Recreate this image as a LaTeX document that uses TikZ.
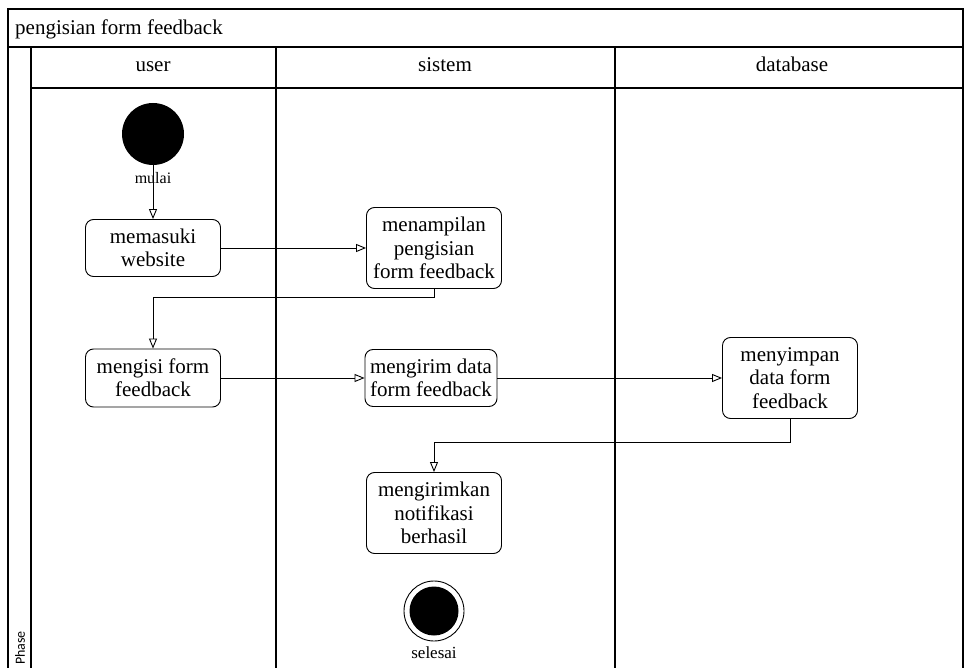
\documentclass[tikz,border=0pt]{standalone}
\usepackage{fontspec}
\setmainfont{Liberation Serif}
\newfontfamily\phasefont{Carlito}
\usetikzlibrary{arrows.meta}

\begin{document}
\begin{tikzpicture}[x=1pt,y=-1pt,
  act/.style={draw,line width=0.9pt,rounded corners=8pt,minimum width=135pt,align=center,inner sep=2pt,font=\fontsize{21}{23.3}\selectfont},
  flow/.style={-{Triangle[open,length=10pt,width=8pt]},line width=0.9pt},
  lane/.style={line width=1.6pt},
  head/.style={anchor=base,inner sep=0pt,font=\fontsize{21}{23.3}\selectfont}]
\useasboundingbox (0,0) rectangle (964,668);
% frame and lanes
\draw[line width=1.2pt] (8,670) -- (8,9) -- (963,9) -- (963,670);
\draw[line width=1.2pt] (8,47) -- (963,47);
\draw[line width=1.2pt] (31,47) -- (31,670);
\draw[line width=1.2pt] (31,88) -- (963,88);
\foreach \x in {276,615} \draw[lane] (\x,47) -- (\x,670);
\node[head,anchor=base west] (title) at (15,35) {pengisian form feedback};
\node[head] (user) at (153,72) {user};
\node[head] (sistem) at (445,72) {sistem};
\node[head] (database) at (792,72) {database};
\node[rotate=90,anchor=west,inner sep=0pt,font=\phasefont\fontsize{14}{16}\selectfont] (phase) at (20,665) {Phase};
% start and end
\node[circle,fill,minimum size=62pt,inner sep=0pt] (mulai) at (153,134) {};
\node[inner sep=0pt,font=\fontsize{16}{18}\selectfont] (mulaitxt) at (153,178) {mulai};
\node[circle,draw,line width=0.9pt,minimum size=60pt,inner sep=0pt] (selesai) at (434,611) {};
\node[circle,fill,minimum size=49pt,inner sep=0pt] (selesaidot) at (selesai) {};
\node[inner sep=0pt,font=\fontsize{17}{19}\selectfont] (selesaitxt) at (434,653) {selesai};
% actions
\node[act,minimum height=57pt] (masuk) at (153,248) {memasuki\\website};
\node[act,minimum height=81pt] (tampil) at (434,248) {menampilan\\pengisian\\form feedback};
\node[act,minimum height=58pt] (isi) at (153,378) {mengisi form\\feedback};
\node[act,minimum height=57pt,minimum width=132pt] (kirim) at (431,378) {mengirim data\\form feedback};
\node[act,minimum height=81pt] (simpan) at (790,378) {menyimpan\\data form\\feedback};
\node[act,minimum height=81pt] (notif) at (434,513) {mengirimkan\\notifikasi\\berhasil};
% flows
\draw[flow] (mulai) -- (masuk);
\draw[flow] (masuk) -- (tampil);
\draw[flow] (tampil.south) -- ++(0,9) -| (isi.north);
\draw[flow] (isi) -- (kirim);
\draw[flow] (kirim) -- (simpan);
\draw[flow] (simpan.south) -- ++(0,23) -| (notif.north);
\end{tikzpicture}
\end{document}
